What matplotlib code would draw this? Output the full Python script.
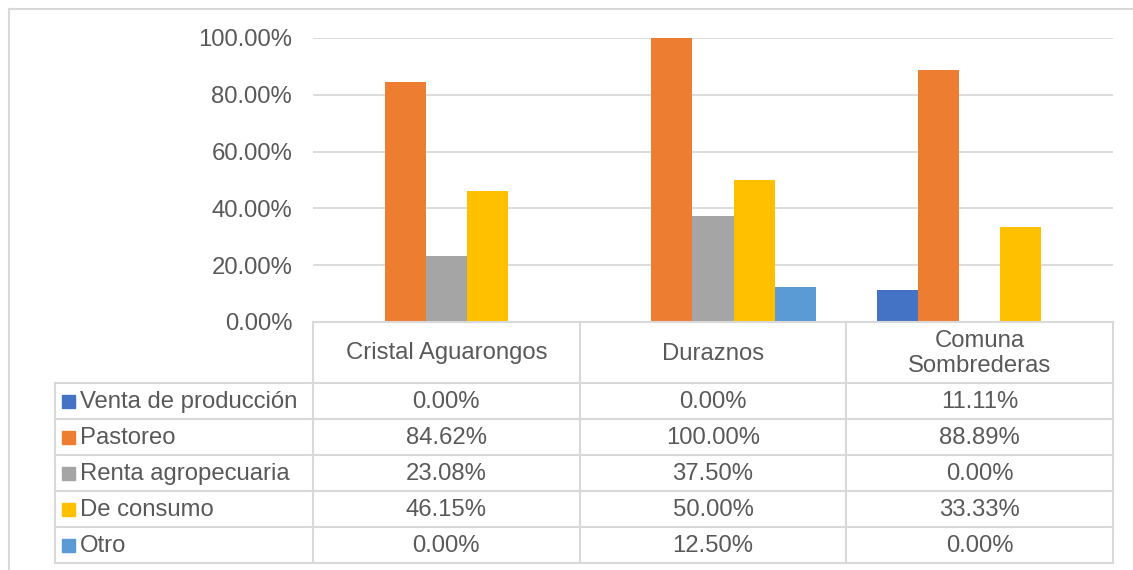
import numpy as np
import matplotlib.pyplot as plt
from matplotlib.ticker import FuncFormatter

categories = ["Cristal Aguarongos", "Duraznos", "Comuna\nSombrederas"]
series = ["Venta de producción", "Pastoreo", "Renta agropecuaria", "De consumo", "Otro"]
venta = [0.00, 0.00, 11.11]
pastoreo = [84.62, 100.00, 88.89]
renta = [23.08, 37.50, 0.00]
consumo = [46.15, 50.00, 33.33]
otro = [0.00, 12.50, 0.00]
values = [venta, pastoreo, renta, consumo, otro]
colors = ["#4472C4", "#ED7D31", "#A5A5A5", "#FFC000", "#5B9BD5"]

plt.rcParams["font.family"] = ["Liberation Sans", "DejaVu Sans"]
text_color = "#595959"
line_color = "#D9D9D9"
fs = 17.2

W, H = 1133, 570
fig = plt.figure(figsize=(W / 100, H / 100), dpi=100)

# plot area in pixel coords
px_left, px_right, px_top, px_bottom = 313, 1113, 38, 322
ax = fig.add_axes([px_left / W, 1 - px_bottom / H,
                   (px_right - px_left) / W, (px_bottom - px_top) / H])

n = len(series)
width = 1 / 6.5
x = np.arange(len(categories))
for i, (name, vals) in enumerate(zip(series, values)):
    ax.bar(x + (i - (n - 1) / 2) * width, vals, width, color=colors[i], zorder=2)

ax.set_xlim(-0.5, len(categories) - 0.5)
ax.set_ylim(0, 100)
ax.set_yticks(np.arange(0, 101, 20))
ax.yaxis.set_major_formatter(FuncFormatter(lambda v, p: f"{v:.2f}%"))
ax.tick_params(axis="y", length=0, pad=15, labelsize=fs, labelcolor=text_color)
ax.set_xticks([])
ax.grid(axis="y", color=line_color, linewidth=1.3, zorder=0)
for s in ax.spines.values():
    s.set_visible(False)

# data table drawn on an overlay in pixel coords
tab = fig.add_axes([0, 0, 1, 1], zorder=3)
tab.set_xlim(0, W)
tab.set_ylim(H, 0)
tab.axis("off")
tab.patch.set_alpha(0)

# outer chart border
tab.plot([9, W + 5], [9, 9], color=line_color, lw=1.5)
tab.plot([9, 9], [9, H + 5], color=line_color, lw=1.5)

col_edges = np.linspace(px_left, px_right, len(categories) + 1)
leg_left = 55
row_h = 36
header_bottom = 383
row_edges = [header_bottom + k * row_h for k in range(n + 1)]

lw = 1.5
tab.plot([px_left, px_right], [px_bottom, px_bottom], color=line_color, lw=lw)
for xe in col_edges:
    tab.plot([xe, xe], [px_bottom, row_edges[-1]], color=line_color, lw=lw)
tab.plot([leg_left, leg_left], [header_bottom, row_edges[-1]], color=line_color, lw=lw)
for ye in row_edges:
    tab.plot([leg_left, px_right], [ye, ye], color=line_color, lw=lw)

for j, cat in enumerate(categories):
    xc = (col_edges[j] + col_edges[j + 1]) / 2
    tab.text(xc, (px_bottom + header_bottom) / 2 + 1, cat, ha="center", va="center",
             fontsize=fs, color=text_color, linespacing=1.15)

for i, (name, vals) in enumerate(zip(series, values)):
    yc = (row_edges[i] + row_edges[i + 1]) / 2
    tab.add_patch(plt.Rectangle((62, yc - 6.5), 13, 13, color=colors[i]))
    tab.text(80, yc + 1, name, ha="left", va="center", fontsize=fs, color=text_color)
    for j, v in enumerate(vals):
        xc = (col_edges[j] + col_edges[j + 1]) / 2
        tab.text(xc, yc + 1, f"{v:.2f}%", ha="center", va="center",
                 fontsize=fs, color=text_color)

fig.savefig("out.png", dpi=100, facecolor="white")
